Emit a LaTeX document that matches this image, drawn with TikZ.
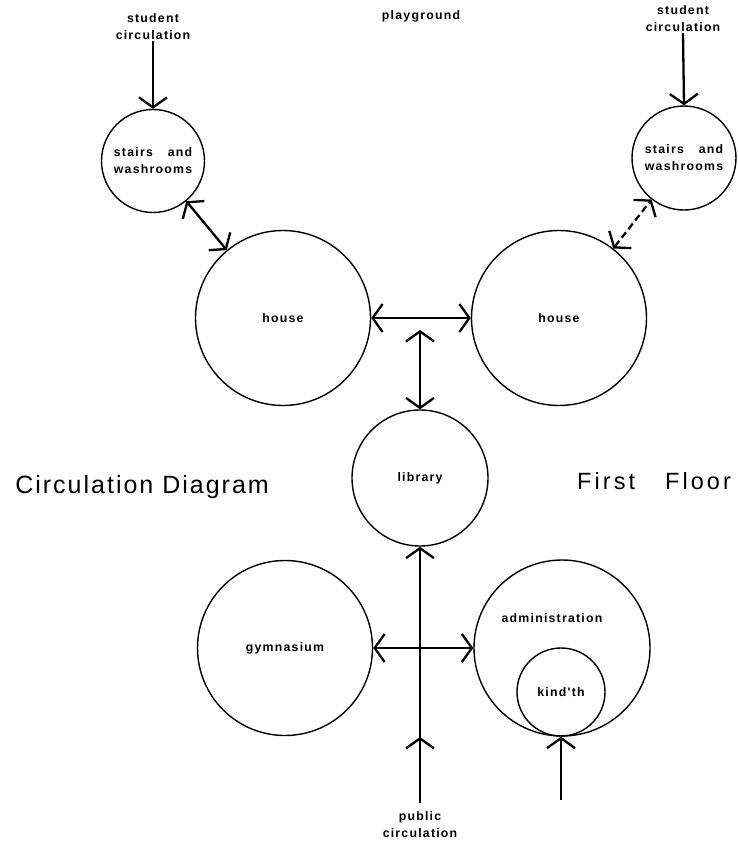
\documentclass[tikz,border=0pt]{standalone}
\usepackage{fontspec}
\setmainfont{Liberation Sans}
\newfontfamily\labfont[LetterSpace=10]{Liberation Sans}
\newfontfamily\bigfont[LetterSpace=8]{Liberation Sans}
\newfontfamily\floorfont[LetterSpace=13]{Liberation Sans}
\usetikzlibrary{arrows.meta}
\newcommand{\labsize}{\labfont\bfseries\fontsize{12.3}{17}\selectfont}
\newcommand{\sandw}{\setbox0\hbox{washrooms}\hbox to \wd0{stairs\hfill and}\\washrooms}
\begin{document}
\begin{tikzpicture}[x=1pt,y=-1pt,
  room/.style={circle,draw,line width=1.4pt,inner sep=0pt,font=\labsize,align=center},
  lab/.style={font=\labsize,align=center,inner sep=1pt},
  conn/.style={line width=2.3pt,>={Straight Barb[length=10pt,width=28pt,line width=2.3pt]}},
  bigtext/.style={inner sep=0pt}]
\useasboundingbox (0,0) rectangle (738,843);
% rooms
\node[room,minimum size=103pt] (ls) at (153,161) {\sandw};
\node[room,minimum size=104pt] (rs) at (684,158) {\sandw};
\node[room,minimum size=175pt] (lh) at (283,318) {house};
\node[room,minimum size=175pt] (rh) at (559,318) {house};
\node[room,minimum size=136pt] (lib) at (420,478) {library};
\node[room,minimum size=175pt] (gym) at (285,648) {gymnasium};
\node[room,minimum size=176pt] (adm) at (562,648) {};
\node[lab] (admtext) at (552,618) {administration};
\node[room,minimum size=88pt] (kin) at (561,692) {kind'th};
% labels
\node[lab] (lsc) at (153,27) {student\\circulation};
\node[lab] (rsc) at (683,19) {student\\circulation};
\node[lab] (play) at (421,16) {playground};
\node[lab] (pubc) at (420,825) {public\\circulation};
\node[bigtext,anchor=base east,font=\bigfont\fontsize{25}{29}\selectfont] (cd) at (269,493) {Circulation Diagram};
\node[bigtext,anchor=base west,font=\floorfont\fontsize{23.5}{28}\selectfont] (ff) at (577,489) {First\hspace{30pt}Floor};
% connectors
\coordinate (libtop) at (420,330);
\coordinate (pub) at (420,803);
\coordinate (pubmid) at (420,737);
\coordinate (kb) at (561,800);
\draw[conn,->] (lsc.south) -- (ls.north);
\draw[conn,->] (rsc.south) -- (rs.north);
\draw[conn,<->] (ls) -- (lh);
\draw[conn,<->,dash pattern=on 7pt off 4pt] (rh) -- (rs);
\draw[conn,<->] (lh) -- (rh);
\draw[conn,<->] (libtop) -- (lib.north);
\draw[conn,->] (pub) -- (lib.south);
\draw[conn,->] (pub) -- (pubmid);
\draw[conn,<->] (gym) -- (adm);
\draw[conn,->] (kb) -- (kin.south);
\end{tikzpicture}
\end{document}
